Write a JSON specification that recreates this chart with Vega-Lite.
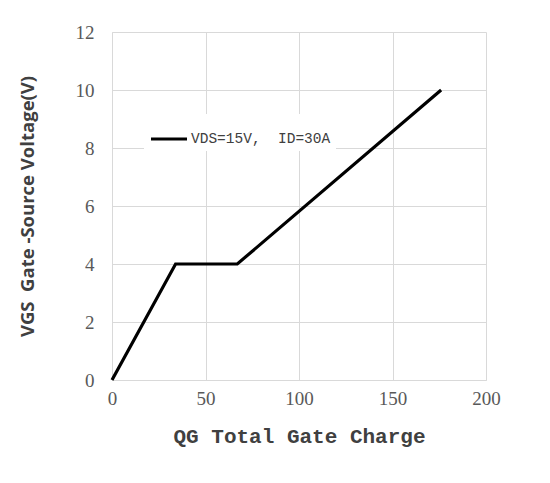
{
  "$schema": "https://vega.github.io/schema/vega-lite/v6.json",
  "width": 374,
  "height": 348,
  "autosize": {"type": "none"},
  "padding": {"left": 112, "top": 32, "right": 64, "bottom": 103},
  "background": "white",
  "config": {
    "view": {"stroke": null},
    "axis": {
      "gridColor": "#d9d9d9",
      "domainColor": "#d9d9d9",
      "ticks": false,
      "labelFont": "Liberation Serif",
      "labelFontSize": 19,
      "labelColor": "#595959",
      "labelFlush": false
    }
  },
  "data": {
    "values": [
      {"qg": 0, "vgs": 0, "series": "VDS=15V,\u00a0\u00a0ID=30A"},
      {"qg": 34, "vgs": 4, "series": "VDS=15V,\u00a0\u00a0ID=30A"},
      {"qg": 67, "vgs": 4, "series": "VDS=15V,\u00a0\u00a0ID=30A"},
      {"qg": 176, "vgs": 10, "series": "VDS=15V,\u00a0\u00a0ID=30A"}
    ]
  },
  "mark": {"type": "line", "strokeWidth": 3.2, "clip": false},
  "encoding": {
    "x": {
      "field": "qg", "type": "quantitative",
      "scale": {"domain": [0, 200], "nice": false},
      "axis": {"values": [0, 50, 100, 150, 200], "title": "QG Total Gate Charge",
        "labelPadding": 9, "titleFont": "Liberation Mono", "titleFontSize": 21, "titleFontWeight": "bold",
        "titleColor": "#404040", "titlePadding": 17, "domain": true}
    },
    "y": {
      "field": "vgs", "type": "quantitative",
      "scale": {"domain": [0, 12], "nice": false},
      "axis": {"values": [0, 2, 4, 6, 8, 10, 12], "title": "VGS\u00a0\u00a0Gate -Source Voltage(V)",
        "labelPadding": 18, "titleFont": "Open Sans", "titleFontSize": 18.5, "titleFontWeight": "bold",
        "titleColor": "#404040", "titlePadding": 38, "domain": true}
    },
    "color": {
      "field": "series", "type": "nominal",
      "scale": {"range": ["black"]},
      "legend": {
        "title": null, "orient": "none", "legendX": 32, "legendY": 82,
        "symbolType": "stroke", "symbolSize": 1296, "symbolStrokeWidth": 3.2,
        "fillColor": "white", "padding": 5, "labelFont": "Liberation Mono",
        "labelFontSize": 14.5, "labelColor": "#404040", "labelOffset": 2
      }
    }
  }
}
